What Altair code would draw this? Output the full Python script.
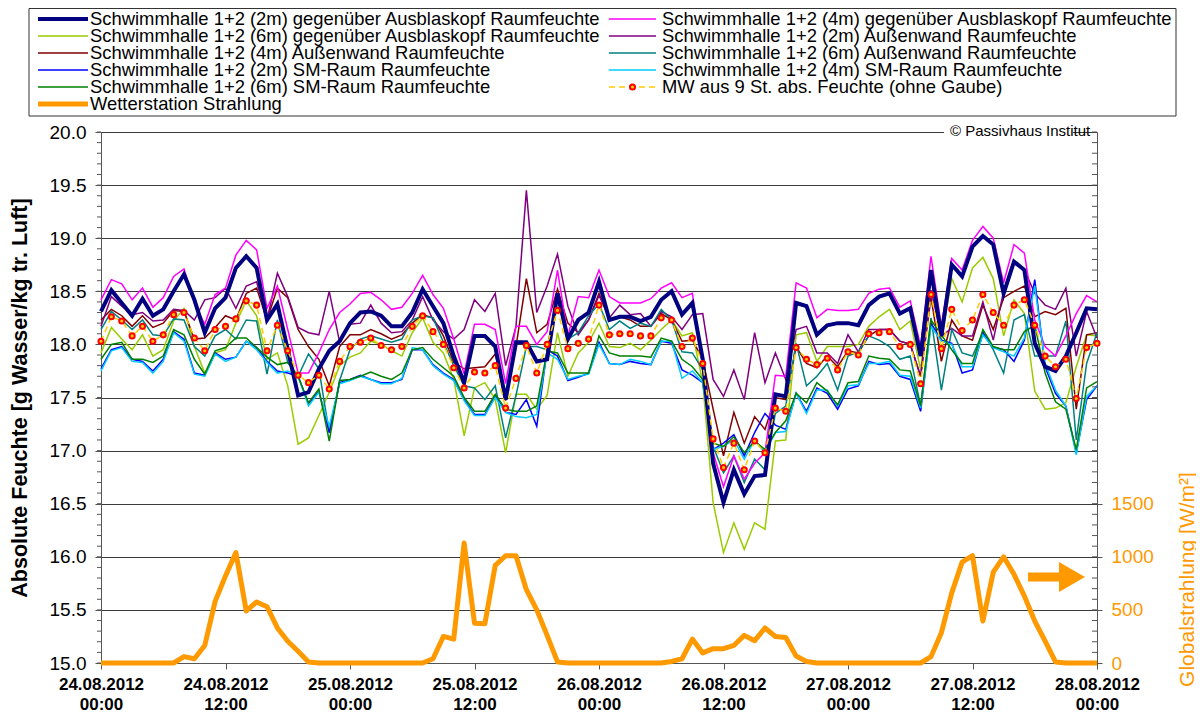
import altair as alt
import pandas as pd

# ---------------- data (hourly, 24.08.2012 00:00 ... 28.08.2012 00:00) ----------------
HOURS = list(range(97))
X_TICKS = [0, 12, 24, 36, 48, 60, 72, 84, 96]
X_TICK_LABELS = [
    ["24.08.2012", "00:00"], ["24.08.2012", "12:00"], ["25.08.2012", "00:00"],
    ["25.08.2012", "12:00"], ["26.08.2012", "00:00"], ["26.08.2012", "12:00"],
    ["27.08.2012", "00:00"], ["27.08.2012", "12:00"], ["28.08.2012", "00:00"],
]
Y_TICKS = [15.0, 15.5, 16.0, 16.5, 17.0, 17.5, 18.0, 18.5, 19.0, 19.5, 20.0]
R_TICK_LABELS = [0, 500, 1000, 1500]

NAVY_2M_GEG = [
    18.31, 18.51, 18.39, 18.27, 18.43, 18.27, 18.33, 18.50, 18.66, 18.42, 18.11, 18.34,
    18.44, 18.72, 18.83, 18.72, 18.23, 18.38, 17.95, 17.52, 17.55, 17.77, 17.94, 18.03,
    18.20, 18.30, 18.31, 18.27, 18.17, 18.17, 18.30, 18.52, 18.36, 18.20, 17.89, 17.64,
    18.08, 18.08, 17.98, 17.48, 18.02, 18.02, 17.84, 17.86, 18.48, 18.05, 18.23, 18.30,
    18.59, 18.23, 18.26, 18.26, 18.22, 18.26, 18.42, 18.50, 18.28, 18.39, 17.86, 16.88,
    16.51, 16.82, 16.59, 16.76, 16.77, 17.53, 17.51, 18.39, 18.36, 18.09, 18.18, 18.20,
    18.20, 18.18, 18.37, 18.45, 18.48, 18.29, 18.34, 17.89, 18.70, 18.08, 18.75, 18.64,
    18.92, 19.02, 18.94, 18.48, 18.78, 18.70, 18.01, 17.79, 17.75, 17.89, 18.11, 18.34,
    18.33]
MAGENTA_4M_GEG = [
    18.42, 18.61, 18.57, 18.42, 18.53, 18.35, 18.44, 18.64, 18.71, 18.39, 18.19, 18.47,
    18.53, 18.84, 18.98, 18.89, 18.34, 18.55, 18.14, 17.73, 17.73, 17.92, 18.14, 18.30,
    18.38, 18.48, 18.49, 18.42, 18.33, 18.35, 18.48, 18.65, 18.47, 18.34, 18.05, 17.72,
    18.19, 18.19, 18.14, 17.63, 18.17, 18.17, 18.00, 18.12, 18.70, 18.08, 18.45, 18.44,
    18.70, 18.45, 18.39, 18.39, 18.39, 18.43, 18.53, 18.58, 18.44, 18.48, 17.79, 16.98,
    16.66, 16.95, 16.73, 16.88, 16.98, 17.71, 17.70, 18.58, 18.53, 18.25, 18.33, 18.32,
    18.32, 18.33, 18.48, 18.52, 18.53, 18.35, 18.41, 17.98, 18.83, 18.17, 18.81, 18.70,
    18.98, 19.11, 19.00, 18.58, 18.94, 18.86, 18.23, 17.98, 17.89, 18.08, 18.29, 18.46,
    18.40]
YGREEN_6M_GEG = [
    17.92, 18.16, 18.05, 17.95, 18.09, 17.89, 17.95, 18.22, 18.34, 17.98, 17.73, 17.92,
    17.95, 18.20, 18.41, 18.27, 17.86, 17.92, 17.61, 17.06, 17.12, 17.33, 17.55, 17.80,
    17.88, 17.92, 18.03, 18.00, 17.94, 17.89, 18.11, 18.25, 18.02, 17.92, 17.67, 17.14,
    17.59, 17.64, 17.48, 16.98, 17.53, 17.53, 17.39, 17.52, 18.11, 17.70, 17.92, 18.02,
    18.20, 17.98, 17.97, 18.01, 17.95, 18.04, 18.14, 18.23, 18.08, 18.11, 17.64, 16.51,
    16.04, 16.32, 16.07, 16.32, 16.26, 17.09, 17.10, 18.09, 18.11, 17.84, 17.98, 17.98,
    17.98, 18.00, 18.17, 18.26, 18.33, 18.14, 18.22, 17.76, 18.67, 18.04, 18.62, 18.40,
    18.72, 18.82, 18.62, 18.08, 18.42, 18.29, 17.56, 17.39, 17.40, 17.45, 17.79, 18.09,
    18.08]
PURPLE_2M_AW = [
    18.17, 18.45, 18.36, 18.28, 18.30, 18.22, 18.23, 18.33, 18.32, 18.23, 18.42, 18.44,
    18.53, 18.34, 18.55, 18.59, 18.23, 18.67, 18.45, 18.16, 18.11, 18.09, 18.50, 18.02,
    18.19, 18.20, 18.37, 18.20, 18.11, 18.12, 18.23, 18.45, 18.23, 18.12, 18.05, 18.14,
    18.42, 18.31, 18.48, 17.80, 18.17, 19.45, 18.30, 18.55, 18.85, 18.36, 18.09, 18.23,
    18.46, 18.25, 18.37, 18.28, 18.29, 18.17, 18.31, 18.26, 18.14, 18.28, 18.29, 17.67,
    17.51, 17.76, 17.48, 18.11, 17.64, 17.92, 17.67, 18.14, 18.17, 17.92, 17.92, 17.82,
    18.09, 17.93, 18.14, 18.14, 18.14, 18.03, 18.00, 17.70, 18.51, 18.08, 18.15, 18.08,
    18.08, 18.40, 18.04, 18.50, 18.76, 18.70, 18.48, 18.37, 18.33, 18.53, 17.89, 18.31,
    18.06]
DARKRED_4M_AW = [
    18.23, 18.33, 18.27, 18.17, 18.27, 18.16, 18.20, 18.32, 18.31, 18.05, 18.06, 18.16,
    18.27, 18.23, 18.48, 18.53, 18.23, 18.53, 18.44, 18.14, 17.98, 17.86, 17.61, 17.98,
    18.09, 18.09, 18.14, 18.10, 18.05, 18.09, 18.20, 18.28, 18.25, 18.08, 17.83, 17.77,
    17.78, 17.79, 17.91, 17.47, 17.98, 18.62, 18.11, 18.19, 18.52, 18.20, 18.11, 18.23,
    18.48, 18.23, 18.26, 18.23, 18.17, 18.17, 18.29, 18.23, 18.03, 18.04, 17.86, 17.39,
    16.95, 17.36, 17.07, 17.32, 17.20, 17.50, 17.48, 17.98, 17.82, 17.78, 17.89, 17.79,
    17.94, 17.92, 18.08, 18.14, 18.14, 18.03, 18.00, 17.70, 18.44, 17.84, 18.23, 18.08,
    18.04, 18.37, 18.14, 18.44, 18.50, 18.55, 18.26, 18.31, 18.28, 18.34, 17.39, 18.09,
    18.11]
TEAL_6M_AW = [
    18.14, 18.31, 18.23, 18.14, 18.23, 18.09, 18.08, 18.24, 18.23, 17.98, 17.89, 18.08,
    18.14, 18.05, 18.23, 18.22, 17.72, 18.23, 17.83, 17.70, 17.91, 17.77, 17.17, 17.66,
    17.95, 18.05, 18.08, 18.05, 18.02, 18.05, 18.23, 18.27, 18.25, 18.02, 17.80, 17.61,
    17.59, 17.48, 17.61, 17.12, 17.52, 17.98, 17.98, 17.95, 18.44, 18.05, 18.11, 18.27,
    18.38, 18.14, 18.22, 18.15, 18.20, 18.17, 18.33, 18.23, 17.93, 17.92, 17.76, 17.04,
    16.79, 16.95, 16.70, 16.92, 16.82, 17.35, 17.42, 18.01, 17.61, 17.70, 17.82, 17.57,
    17.89, 17.93, 18.08, 18.04, 17.98, 17.86, 17.89, 17.42, 18.25, 17.57, 18.14, 17.92,
    17.89, 18.11, 17.95, 17.73, 18.23, 18.28, 17.89, 17.89, 17.89, 18.22, 17.10, 17.82,
    18.11]
GREEN_6M_SM = [
    17.86, 18.00, 18.02, 17.86, 17.86, 17.83, 17.89, 18.14, 18.09, 17.86, 17.72, 17.94,
    17.97, 18.06, 18.06, 17.97, 17.88, 17.81, 17.83, 17.70, 17.45, 17.58, 17.09, 17.66,
    17.67, 17.70, 17.74, 17.70, 17.67, 17.73, 17.95, 17.97, 17.86, 17.78, 17.70, 17.50,
    17.37, 17.37, 17.53, 17.39, 17.37, 17.37, 17.42, 17.94, 17.92, 17.73, 17.73, 17.73,
    18.08, 17.92, 17.89, 17.89, 17.89, 17.88, 18.06, 18.03, 17.86, 17.79, 17.67, 17.07,
    17.04, 17.13, 16.98, 17.09, 17.01, 17.17, 17.28, 17.54, 17.45, 17.64, 17.56, 17.43,
    17.64, 17.65, 17.89, 17.87, 17.86, 17.76, 17.75, 17.42, 18.23, 18.09, 17.95, 17.82,
    17.82, 18.14, 17.98, 17.95, 17.95, 18.12, 18.18, 17.73, 17.46, 17.39, 17.01, 17.59,
    17.65]
BLUE_2M_SM = [
    17.77, 17.95, 17.98, 17.86, 17.84, 17.75, 17.86, 18.12, 18.05, 17.73, 17.71, 17.92,
    17.86, 17.88, 18.03, 17.97, 17.84, 17.75, 17.73, 17.70, 17.44, 17.56, 17.17, 17.64,
    17.67, 17.71, 17.67, 17.64, 17.64, 17.67, 17.95, 17.95, 17.81, 17.73, 17.67, 17.48,
    17.34, 17.34, 17.52, 17.36, 17.34, 17.48, 17.23, 17.95, 17.89, 17.66, 17.69, 17.73,
    18.02, 17.82, 17.81, 17.84, 17.82, 17.81, 18.03, 18.01, 17.76, 17.71, 17.64, 17.01,
    17.07, 17.15, 16.95, 17.17, 17.35, 17.24, 17.20, 17.54, 17.37, 17.59, 17.54, 17.39,
    17.58, 17.61, 17.84, 17.81, 17.82, 17.70, 17.67, 17.37, 18.20, 18.04, 18.01, 17.73,
    17.76, 18.11, 17.97, 17.95, 17.84, 18.04, 18.61, 17.79, 17.54, 17.42, 16.98, 17.48,
    17.61]
CYAN_4M_SM = [
    17.75, 17.94, 17.97, 17.84, 17.83, 17.73, 17.84, 18.11, 18.03, 17.72, 17.70, 17.91,
    17.84, 17.88, 18.03, 17.95, 17.83, 17.73, 17.75, 17.70, 17.42, 17.55, 17.23, 17.63,
    17.66, 17.70, 17.67, 17.63, 17.63, 17.68, 17.97, 17.95, 17.80, 17.72, 17.66, 17.47,
    17.33, 17.33, 17.50, 17.36, 17.32, 17.31, 17.34, 17.92, 17.86, 17.67, 17.70, 17.72,
    18.00, 17.82, 17.81, 17.86, 17.84, 17.81, 18.03, 18.03, 17.68, 17.75, 17.64, 17.01,
    17.04, 17.10, 16.92, 17.10, 16.98, 17.17, 17.18, 17.54, 17.35, 17.57, 17.57, 17.42,
    17.61, 17.62, 17.82, 17.82, 17.84, 17.71, 17.70, 17.40, 18.17, 18.03, 18.00, 17.79,
    17.79, 18.09, 17.97, 17.93, 17.89, 18.06, 18.55, 17.82, 17.57, 17.42, 16.96, 17.51,
    17.61]
MW_9ST = [
    18.03, 18.26, 18.22, 18.08, 18.17, 18.03, 18.09, 18.28, 18.30, 18.06, 17.94, 18.14,
    18.17, 18.24, 18.41, 18.37, 17.94, 18.18, 17.94, 17.71, 17.64, 17.71, 17.58, 17.84,
    17.98, 18.02, 18.06, 17.99, 17.95, 17.98, 18.17, 18.27, 18.12, 18.00, 17.78, 17.59,
    17.74, 17.73, 17.80, 17.40, 17.68, 17.99, 17.73, 18.00, 18.32, 17.96, 18.01, 18.05,
    18.37, 18.09, 18.10, 18.10, 18.08, 18.08, 18.25, 18.23, 17.98, 18.06, 17.82, 17.11,
    16.84, 17.07, 16.82, 17.09, 16.98, 17.40, 17.37, 17.97, 17.86, 17.81, 17.87, 17.76,
    17.93, 17.90, 18.10, 18.11, 18.12, 17.98, 18.00, 17.63, 18.47, 17.96, 18.33, 18.13,
    18.23, 18.47, 18.30, 18.18, 18.37, 18.42, 18.18, 17.89, 17.79, 17.86, 17.49, 17.97,
    18.01]
STRAHLUNG = [
    0, 0, 0, 0, 0, 0, 0, 0, 60, 40, 165, 580,
    820, 1040, 490, 575, 530, 330, 205, 110, 10, 0, 0, 0,
    0, 0, 0, 0, 0, 0, 0, 0, 40, 250, 225, 1130,
    375, 370, 920, 1010, 1010, 690, 500, 260, 10, 0, 0, 0,
    0, 0, 0, 0, 0, 0, 0, 15, 40, 225, 95, 135,
    135, 165, 260, 210, 330, 250, 240, 65, 15, 0, 0, 0,
    0, 0, 0, 0, 0, 0, 0, 0, 60, 285, 660, 950,
    1010, 395, 855, 1000, 835, 630, 395, 205, 10, 0, 0, 0,
    0]

N_NAVY = "Schwimmhalle 1+2 (2m) gegenüber Ausblaskopf Raumfeuchte"
N_YG = "Schwimmhalle 1+2 (6m) gegenüber Ausblaskopf Raumfeuchte"
N_DR = "Schwimmhalle 1+2 (4m) Außenwand Raumfeuchte"
N_BLUE = "Schwimmhalle 1+2 (2m) SM-Raum Raumfeuchte"
N_GREEN = "Schwimmhalle 1+2 (6m) SM-Raum Raumfeuchte"
N_ORANGE = "Wetterstation Strahlung"
N_MAG = "Schwimmhalle 1+2 (4m) gegenüber Ausblaskopf Raumfeuchte"
N_PURPLE = "Schwimmhalle 1+2 (2m) Außenwand Raumfeuchte"
N_TEAL = "Schwimmhalle 1+2 (6m) Außenwand Raumfeuchte"
N_CYAN = "Schwimmhalle 1+2 (4m) SM-Raum Raumfeuchte"
N_MW = "MW aus 9 St. abs. Feuchte (ohne Gaube)"

# ---------------- styles ----------------
FONT = "Liberation Sans"
W, H = 996, 531
C = {
    N_NAVY: ("#000080", 4.0), N_YG: ("#99CC00", 1.5), N_DR: ("#800000", 1.5),
    N_BLUE: ("#0000FF", 1.5), N_GREEN: ("#008000", 1.5), N_ORANGE: ("#FF9900", 5.0),
    N_MAG: ("#FF00FF", 1.5), N_PURPLE: ("#800080", 1.5), N_TEAL: ("#008080", 1.5),
    N_CYAN: ("#00CCFF", 1.5), N_MW: ("#FFCC00", 1.5),
}

xscale = alt.Scale(domain=[0, 96], nice=False, zero=False)
yscale = alt.Scale(domain=[15, 20], nice=False, zero=False)
rscale = alt.Scale(domain=[0, 5000], nice=False, zero=False)

x_label_expr = "[" + ",".join("['%s','%s']" % (a, b) for a, b in X_TICK_LABELS) + "][round(datum.value/12)]"

x_axis = alt.Axis(values=X_TICKS, labelExpr=x_label_expr, grid=False, title=None,
                  labelFont=FONT, labelFontSize=17, labelFontWeight="bold", labelColor="#000",
                  labelLineHeight=20, labelPadding=7, tickSize=6, tickColor="#555",
                  domainColor="#555", labelFlush=False, labelOverlap=False)
y_axis = alt.Axis(values=Y_TICKS, format=".1f", grid=True, gridColor="#3a3a3a", gridWidth=1,
                  tickSize=6, tickColor="#555", domainColor="#555",
                  labelFont=FONT, labelFontSize=19, labelColor="#000", labelPadding=9,
                  labelOverlap=False,
                  title="Absolute Feuchte [g Wasser/kg tr. Luft]",
                  titleFont=FONT, titleFontSize=21.5, titleFontWeight="bold", titleColor="#000",
                  titleAngle=270, titleX=-81, titleY=H / 2, titleAlign="center",
                  titleBaseline="middle")
r_axis = alt.Axis(orient="right", values=R_TICK_LABELS, format="d",
                  grid=False, tickSize=5, tickColor="#555", domainColor="#555",
                  labelFont=FONT, labelFontSize=19, labelColor="#FF9900", labelPadding=9,
                  labelOverlap=False,
                  title="Globalstrahlung [W/m²]", titleFont=FONT, titleFontSize=21,
                  titleFontWeight="normal", titleColor="#FF9900", titleAngle=270,
                  titleX=90, titleY=447, titleAlign="center", titleBaseline="middle")

X_ENC = alt.X("h:Q", scale=xscale, axis=x_axis)
Y_ENC = alt.Y("v:Q", scale=yscale, axis=y_axis)


def hum_line(values, name):
    color, width = C[name]
    df = pd.DataFrame({"h": HOURS, "v": values})
    return alt.Chart(df).mark_line(color=color, strokeWidth=width).encode(x=X_ENC, y=Y_ENC)


draw_order = [
    (YGREEN_6M_GEG, N_YG), (DARKRED_4M_AW, N_DR), (PURPLE_2M_AW, N_PURPLE),
    (TEAL_6M_AW, N_TEAL), (MAGENTA_4M_GEG, N_MAG), (BLUE_2M_SM, N_BLUE),
    (CYAN_4M_SM, N_CYAN), (GREEN_6M_SM, N_GREEN), (NAVY_2M_GEG, N_NAVY),
]
hum_layers = [hum_line(v, n) for v, n in draw_order]

# minor ticks of the left axis (outward) and of the right axis (inward), every 0.1
minor = pd.DataFrame({"v": [round(15 + i * 0.1, 1) for i in range(51)]})
minor_left = alt.Chart(minor).mark_rule(color="#555", strokeWidth=1).encode(
    y=Y_ENC, x=alt.value(-4), x2=alt.value(0))
minor_right = alt.Chart(minor).mark_rule(color="#555", strokeWidth=1).encode(
    y=Y_ENC, x=alt.value(W - 5), x2=alt.value(W))

mw_df = pd.DataFrame({"h": HOURS, "v": MW_9ST})
mw_line = alt.Chart(mw_df).mark_line(color="#FFCC00", strokeWidth=1.5, strokeDash=[6, 4]).encode(
    x=X_ENC, y=Y_ENC)
mw_pts = alt.Chart(mw_df).mark_point(shape="circle", filled=True, size=26, fill="#FFCC00",
                                     stroke="#FF0000", strokeWidth=2, opacity=1).encode(
    x=X_ENC, y=Y_ENC)

humid = alt.layer(*hum_layers, minor_left, minor_right, mw_line, mw_pts)

rad = alt.Chart(pd.DataFrame({"h": HOURS, "r": STRAHLUNG})).mark_line(
    color="#FF9900", strokeWidth=5, strokeJoin="round").encode(
    x=X_ENC, y=alt.Y("r:Q", scale=rscale, axis=r_axis))

# ---------------- legend box, copyright, arrow ----------------
ONE = pd.DataFrame({"a": [0]})
deco = []
deco.append(alt.Chart(ONE).mark_rect(fill="white", stroke="#333", strokeWidth=1).encode(
    x=alt.value(-72), x2=alt.value(1075), y=alt.value(-123.5), y2=alt.value(-16)))

LEGEND_LEFT = [N_NAVY, N_YG, N_DR, N_BLUE, N_GREEN, N_ORANGE]
LEGEND_RIGHT = [N_MAG, N_PURPLE, N_TEAL, N_CYAN, N_MW]
for col, names in enumerate([LEGEND_LEFT, LEGEND_RIGHT]):
    x0, x1, xt = (-63, -13, -11) if col == 0 else (508, 555, 561)
    for row, name in enumerate(names):
        yy = -113 + row * 17
        color, width = C[name]
        if name == N_MW:
            deco.append(alt.Chart(ONE).mark_rule(color=color, strokeWidth=1.5, strokeDash=[6, 4]).encode(
                x=alt.value(x0), x2=alt.value(x1), y=alt.value(yy)))
            deco.append(alt.Chart(ONE).mark_point(shape="circle", filled=True, size=26, fill="#FFCC00",
                                                  stroke="#FF0000", strokeWidth=2, opacity=1).encode(
                x=alt.value((x0 + x1) / 2), y=alt.value(yy)))
        else:
            deco.append(alt.Chart(ONE).mark_rule(color=color, strokeWidth=width).encode(
                x=alt.value(x0), x2=alt.value(x1), y=alt.value(yy)))
        deco.append(alt.Chart(pd.DataFrame({"t": [name]})).mark_text(
            align="left", baseline="middle", font=FONT, fontSize=18.4, color="#000").encode(
            text="t:N", x=alt.value(xt), y=alt.value(yy)))

deco.append(alt.Chart(ONE).mark_rect(fill="white").encode(
    x=alt.value(843), x2=alt.value(972), y=alt.value(-9), y2=alt.value(7)))
deco.append(alt.Chart(pd.DataFrame({"t": ["© Passivhaus Institut"]})).mark_text(
    align="left", baseline="middle", font=FONT, fontSize=15, color="#000").encode(
    text="t:N", x=alt.value(849), y=alt.value(-1)))

deco.append(alt.Chart(ONE).mark_rule(color="#FF9900", strokeWidth=9).encode(
    x=alt.value(927), x2=alt.value(960), y=alt.value(445)))
deco.append(alt.Chart(ONE).mark_point(shape="triangle-right", filled=True, size=900,
                                      fill="#FF9900", opacity=1).encode(
    x=alt.value(971), y=alt.value(445)))

chart = alt.layer(humid, rad, *deco).resolve_scale(y="independent").properties(
    width=W, height=H,
    padding={"left": 93, "top": 124, "right": 99, "bottom": 53},
    autosize=alt.AutoSizeParams(type="none"),
).configure_view(stroke=None).configure(font=FONT)

chart.save("out.html", embed_options={"renderer": "svg", "actions": False})
